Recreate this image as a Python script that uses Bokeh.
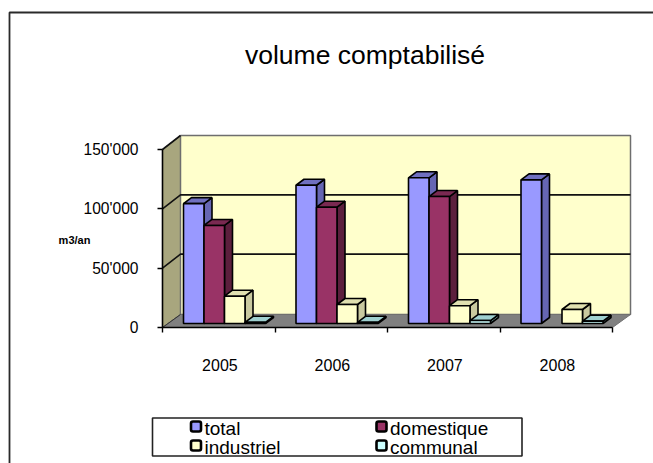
from bokeh.plotting import figure
from bokeh.models import Range1d, FixedTicker
from bokeh.core.properties import value
from bokeh.embed import file_html
from bokeh.resources import INLINE

years = ["2005", "2006", "2007", "2008"]
total = [101000, 116500, 122800, 121000]
domestique = [82600, 98000, 107000, None]
industriel = [23000, 16000, 15000, 11800]
communal = [1000, 1000, 2500, 2000]
y_ticks = [0, 50000, 100000, 150000]
y_labels = ["0", "50'000", "100'000", "150'000"]
names = ["total", "domestique", "industriel", "communal"]
front_colors = ["#9999FF", "#993366", "#FFFFCC", "#CCFFFF"]
side_colors = ["#6666B3", "#5C1F3D", "#C9C99F", "#86B8B8"]
top_colors = ["#7070C0", "#7A2951", "#E0E0B0", "#9FD0D0"]

FONT = "Liberation Sans"
W, H = 653, 463
X0, GROUP = 162.0, 112.5     # page x of the axis, px per category
Y0, PPU = 327.0, 178.0 / 150000  # page y of zero, px per unit


def gx(px):
    return (px - X0) / GROUP


def vy(py):
    return (Y0 - py) / PPU


def ddx(px):
    return px / GROUP


def ddy(px):
    return px / PPU


p = figure(width=W, height=H, output_backend="svg", toolbar_location=None,
           x_range=Range1d(gx(0), gx(W)),
           y_range=Range1d(vy(H), vy(0)),
           min_border=0, min_border_left=0, min_border_right=0,
           min_border_top=0, min_border_bottom=0,
           background_fill_color="white", outline_line_color=None)
p.grid.visible = False

# chart frame: its right and bottom edges fall outside the picture
p.multi_line([[gx(9), gx(9), gx(W)]], [[vy(H), vy(12), vy(12)]],
             line_color="#2a2a2a", line_width=1.8)

# 3D walls
DX, DY, GY = ddx(18), ddy(13), ddy(14)
top_v = y_ticks[-1]
n = len(years)
p.patch([0, DX, DX, 0], [0, DY, top_v + GY, top_v], fill_color="#A8A67E", line_color="#555555", line_width=1)
p.patch([DX, n + DX, n + DX, DX], [DY, DY, top_v + GY, top_v + GY], fill_color="#FFFFCC",
        line_color="#6e6e6e", line_width=1.5)
p.patch([0, n, n + DX, DX], [0, 0, DY, DY], fill_color="#808080", line_color="#707070", line_width=1)

# grid lines: left wall diagonal + back wall
for t in y_ticks[1:]:
    xs = [0, DX, n + DX] if t != top_v else [0, DX]
    ys = [t, t + GY, t + GY] if t != top_v else [t, t + GY]
    p.line(xs, ys, line_color="#111111", line_width=1.6)
p.line([0, DX], [0, DY], line_color="#333333", line_width=1)

# bars
OFF, BW = ddx(21), ddx(20.5)
BX, BY = ddx(8), ddy(6)
BASE = ddy(4)
series = [total, domestique, industriel, communal]
for g in range(n):
    for s, vals in enumerate(series):
        v = vals[g]
        if v is None:
            continue
        x0 = g + OFF + s * BW
        x1 = x0 + BW
        b, t = BASE, BASE + v
        p.patch([x1, x1 + BX, x1 + BX, x1], [b, b + BY, t + BY, t],
                fill_color=side_colors[s], line_color="black", line_width=1.6)
        p.patch([x0, x1, x1 + BX, x0 + BX], [t, t, t + BY, t + BY],
                fill_color=top_colors[s], line_color="black", line_width=1.6)
        p.patch([x0, x1, x1, x0], [b, b, t, t],
                fill_color=front_colors[s], line_color="black", line_width=1.6)

# axes
ya = p.yaxis[0]
ya.fixed_location = 0
ya.bounds = (0, top_v)
ya.ticker = FixedTicker(ticks=y_ticks)
ya.major_label_overrides = {t: l for t, l in zip(y_ticks, y_labels)}
ya.major_tick_out = 5
ya.major_tick_in = 0
ya.minor_tick_out = 0
ya.minor_tick_in = 0
ya.axis_line_color = "black"
ya.axis_line_width = 1.6
ya.major_tick_line_color = "black"
ya.major_tick_line_width = 1.4
ya.major_label_text_font = FONT
ya.major_label_text_font_size = "15.6px"
ya.major_label_text_color = "black"
ya.major_label_standoff = 19

xa = p.xaxis[0]
xa.fixed_location = 0
xa.bounds = (0, n)
xa.ticker = FixedTicker(ticks=[i + 0.51 for i in range(n)], minor_ticks=list(range(n + 1)))
xa.major_label_overrides = {i + 0.51: y for i, y in enumerate(years)}
xa.major_tick_out = 0
xa.major_tick_in = 0
xa.minor_tick_out = 5
xa.minor_tick_in = 0
xa.axis_line_color = "black"
xa.axis_line_width = 1.6
xa.minor_tick_line_color = "black"
xa.minor_tick_line_width = 1.4
xa.major_label_text_font = FONT
xa.major_label_text_font_size = "16px"
xa.major_label_text_color = "black"
xa.major_label_standoff = 26

# title and unit
p.text([gx(364.5)], [vy(54)], text=["volume comptabilisé"], text_font=value(FONT), text_font_size="26.5px",
       text_align="center", text_baseline="middle", text_color="black")
p.text([gx(74)], [vy(239)], text=["m3/an"], text_font=value(FONT), text_font_size="11px",
       text_font_style="bold", text_align="center", text_baseline="middle", text_color="black")

# legend
p.patch([gx(152), gx(521.5), gx(521.5), gx(152)], [vy(417.5), vy(417.5), vy(455.5), vy(455.5)],
        fill_color="white", line_color="#222222", line_width=1.6)
lx = [195.5, 381, 195.5, 381]
ly = [426, 426, 445, 445]
for i, nm in enumerate(names):
    p.rect([gx(lx[i])], [vy(ly[i])], width=10, height=10, width_units="screen", height_units="screen",
           fill_color=front_colors[i], line_color="black", line_width=2.6, border_radius=2)
    p.text([gx(lx[i] + 8.5)], [vy(ly[i] + 2)], text=[nm], text_font=value(FONT), text_font_size="19px",
           text_align="left", text_baseline="middle", text_color="black")

open("out.html", "w").write(file_html(p, INLINE))
